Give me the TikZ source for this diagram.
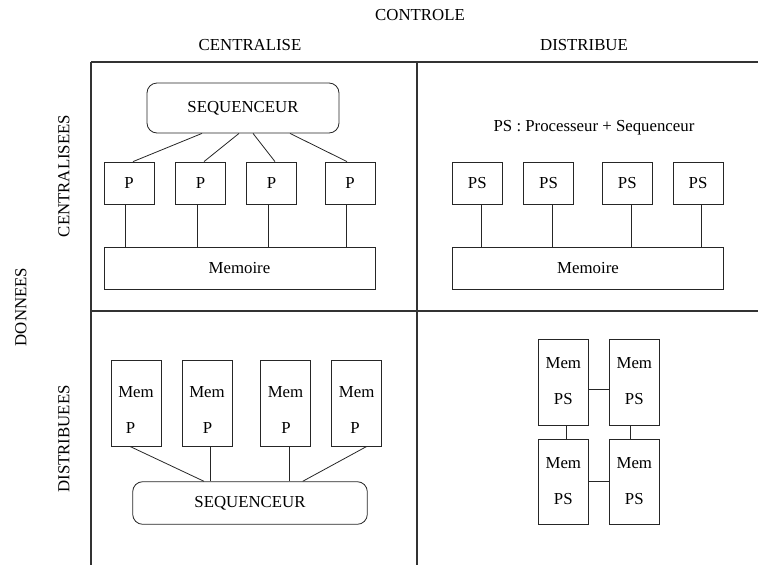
\documentclass[tikz,border=0pt]{standalone}
\usepackage{fontspec}
\setmainfont{Liberation Serif}
\usetikzlibrary{positioning}
\begin{document}
\begin{tikzpicture}[x=1pt,y=-1pt,
  every node/.style={font=\fontsize{16.8}{20}\selectfont},
  box/.style={draw=black!85,line width=0.8pt,inner sep=0pt,minimum width=50pt,minimum height=42pt},
  tallbox/.style={box,minimum height=85.5pt},
  longbox/.style={box,minimum width=271pt},
  seqbox/.style={draw=black!85,line width=0.8pt,inner sep=0pt,rounded corners=10pt},
  txt/.style={inner sep=0pt},
  link/.style={draw=black!85,line width=0.8pt},
  frame/.style={draw=black!80,line width=1.1pt}]
\useasboundingbox (0,0) rectangle (758,565);

% grid of the classification
\draw[frame] (91,62) -- (758,62);
\draw[frame] (91,62) -- (91,565);
\draw[frame] (417,62) -- (417,565);
\draw[frame] (91,311) -- (758,311);

% headings
\node[txt] (controle) at (420,15) {CONTROLE};
\node[txt] (centralise) at (250,45) {CENTRALISE};
\node[txt] (distribue) at (584,45) {DISTRIBUE};
\node[txt,rotate=90] (donnees) at (21,307) {DONNEES};
\node[txt,rotate=90] (centralisees) at (64,176) {CENTRALISEES};
\node[txt,rotate=90] (distribuees) at (64,439) {DISTRIBUEES};

% centralised control, centralised data
\node[seqbox,minimum width=192pt,minimum height=50pt] (seqA) at (243,108) {SEQUENCEUR};
\node[box] (pA1) at (129,183) {P};
\node[box] (pA2) at (200.5,183) {P};
\node[box] (pA3) at (271.5,183) {P};
\node[box] (pA4) at (350,183) {P};
\node[longbox] (memA) at (239.5,268) {Memoire};
\draw[link] ([xshift=-41pt]seqA.south) -- ([xshift=4pt]pA1.north);
\draw[link] ([xshift=-4pt]seqA.south) -- ([xshift=3.5pt]pA2.north);
\draw[link] ([xshift=10pt]seqA.south) -- ([xshift=3.5pt]pA3.north);
\draw[link] ([xshift=47pt]seqA.south) -- ([xshift=-3pt]pA4.north);
\foreach \n in {pA1,pA2,pA3,pA4}
  \draw[link] ([xshift=-3.5pt]\n.south) -- ([xshift=-3.5pt]\n.south |- memA.north);

% distributed control, centralised data
\node[txt] (legend) at (594,128) {PS : Processeur + Sequenceur};
\node[box] (psB1) at (477.3,183) {PS};
\node[box] (psB2) at (548.5,183) {PS};
\node[box] (psB3) at (627.3,183) {PS};
\node[box] (psB4) at (698,183) {PS};
\node[longbox] (memB) at (588,268) {Memoire};
\foreach \n in {psB1,psB2,psB3,psB4}
  \draw[link] ([xshift=3.8pt]\n.south) -- ([xshift=3.8pt]\n.south |- memB.north);

% centralised control, distributed data
\foreach \i/\x/\px in {1/136/130.5,2/207/207.5,3/285.5/286,4/356.7/355}{
  \node[tallbox] (mpC\i) at (\x,403.3) {};
  \node[txt] (memC\i) at (\x,391.7) {Mem};
  \node[txt] (pC\i) at (\px,427.7) {P};
}
\node[seqbox,minimum width=234.6pt,minimum height=42.6pt] (seqC) at (250,503) {SEQUENCEUR};
\draw[link] ([xshift=-6pt]mpC1.south) -- ([xshift=-46pt]seqC.north);
\draw[link] ([xshift=3.7pt]mpC2.south) -- ([xshift=3.7pt]mpC2.south |- seqC.north);
\draw[link] ([xshift=3.8pt]mpC3.south) -- ([xshift=3.8pt]mpC3.south |- seqC.north);
\draw[link] ([xshift=10pt]mpC4.south) -- ([xshift=52.7pt]seqC.north);

% distributed control, distributed data
\foreach \n/\x/\y in {TL/563.3/382.2,TR/634.3/382.2,BL/563.3/481.8,BR/634.3/481.8}{
  \node[tallbox] (mpD\n) at (\x,\y) {};
  \node[txt] (memD\n) at (\x,\y-19) {Mem};
  \node[txt] (psD\n) at (\x,\y+17) {PS};
}
\draw[link] ([yshift=-7pt]mpDTL.east) -- ([yshift=-7pt]mpDTR.west);
\draw[link] (mpDBL.east) -- (mpDBR.west);
\draw[link] ([xshift=3.4pt]mpDTL.south) -- ([xshift=3.4pt]mpDBL.north);
\draw[link] ([xshift=-3.6pt]mpDTR.south) -- ([xshift=-3.6pt]mpDBR.north);
\end{tikzpicture}
\end{document}
